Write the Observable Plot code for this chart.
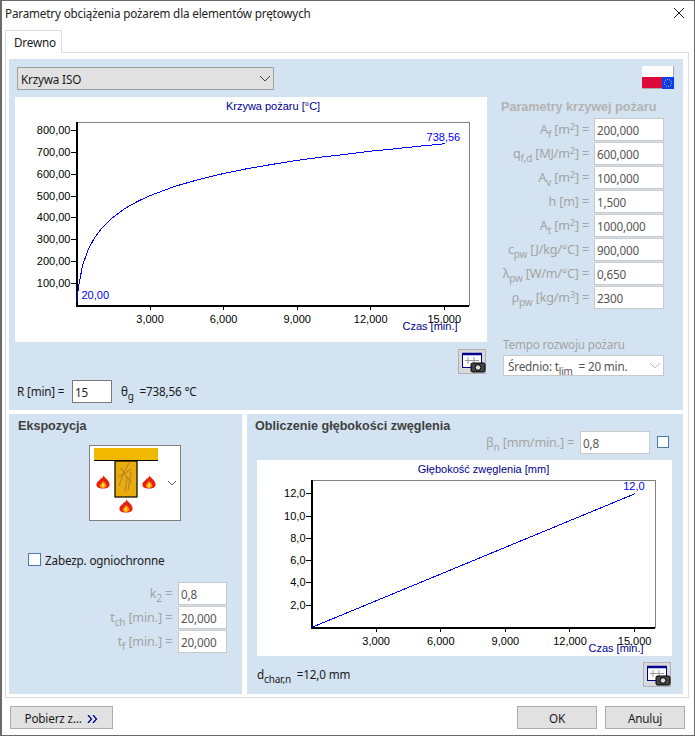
<!DOCTYPE html>
<html lang="pl">
<head>
<meta charset="utf-8">
<script src="https://cdn.jsdelivr.net/npm/d3@7"></script>
<script src="https://cdn.jsdelivr.net/npm/@observablehq/plot@0.6"></script>
<style>
html,body{margin:0;padding:0;background:#fff}
#win{position:relative;width:695px;height:736px;overflow:hidden;background:#fff;font-family:"Noto Sans",sans-serif;font-size:11.7px;letter-spacing:-.17px;color:#1a1a1a}
.a{position:absolute;box-sizing:border-box;white-space:nowrap}
.in{background:#fff;border:1px solid #c8c8c8;padding-left:2px;color:#555;display:flex;align-items:center}
.lab{color:#a3a3a3;text-align:right;font-size:12.6px;display:flex;align-items:center;justify-content:flex-end}
sub{font-size:10px;vertical-align:-4px;line-height:0}
sup{font-size:9px;vertical-align:4px;line-height:0}
.panel{background:#d3e3f1}
.btn{background:#e1e1e1;border:1px solid #adadad;display:flex;align-items:center;justify-content:center}
.h{font-family:"Liberation Sans",sans-serif;font-weight:bold;font-size:12.6px;letter-spacing:0}
.d{display:flex;align-items:center}
.cb{background:#fff;border:1px solid #4f7aa8}
.c{letter-spacing:0}
.c svg{display:block;background:#fff;overflow:visible}
.c svg line,.c svg rect,.c svg path{shape-rendering:crispEdges}
</style>
</head>
<body>
<div id="win"></div>
<script>
// ---- data ----
const fireMinutes = [0, 0.1, 0.25, 0.5, 0.75, 1, 1.5, 2, 2.5, 3, 4, 5, 6, 7, 8, 9, 10, 11, 12, 13, 14, 15];
const fireTemps = [20, 97, 185, 261, 312, 349, 404, 445, 476, 502, 544, 576, 603, 626, 645, 663, 678, 691, 705, 716, 728, 738.56];
const charMinutes = [0, 3, 6, 9, 12, 15];
const charDepths = [0, 2.4, 4.8, 7.2, 9.6, 12];
const fireXTicks = [3, 6, 9, 12, 15];
const fireYTicks = [100, 200, 300, 400, 500, 600, 700, 800];
const charXTicks = [3, 6, 9, 12, 15];
const charYTicks = [2, 4, 6, 8, 10, 12];
const fireLabels = ["20,00", "738,56"];
const charLabels = ["12,0"];

const rows = (xs, ys) => xs.map((x, i) => ({x, y: ys[i]}));
const comma = spec => d => d3.format(spec)(d).replace(".", ",");
const win = document.getElementById("win");
function el(x, y, w, h, cls, html, style) {
  const e = document.createElement("div");
  e.className = "a " + (cls || "");
  e.style.cssText = `left:${x}px;top:${y}px;` + (w != null ? `width:${w}px;` : "") + (h != null ? `height:${h}px;` : "") + (style || "");
  if (html != null) e.innerHTML = `<span>${html}</span>`;
  win.appendChild(e);
  return e;
}

// ---- window chrome ----
el(0, 0, 695, 736, "", null, "border:1px solid #6a6a6a;border-left-width:2px;");
el(5, 4, 320, 18, "d", "Parametry obciążenia pożarem dla elementów prętowych", "color:#222;");
el(672, 5, 14, 16, "", `<svg width="14" height="16"><path d="M2 3L12 13M12 3L2 13" stroke="#222" fill="none"/></svg>`);
el(5, 52, 684, 646, "", null, "border:1px solid #dcdcdc;");
el(5, 30, 57, 23, "d", "Drewno", "background:#fff;border:1px solid #dcdcdc;border-bottom:none;padding-left:8px;");
el(9, 59, 674, 351, "panel");
el(9, 414, 233, 280, "panel");
el(247, 414, 436, 280, "panel");

// top panel controls
const chevron = c => `<svg width="12" height="8" style="display:block"><path d="M1 1L6 6L11 1" stroke="${c}" fill="none"/></svg>`;
el(17, 67, 257, 23, "btn", "Krzywa ISO", "justify-content:flex-start;padding-left:3px;background:#e1e1e1;border-color:#a0a0a0;");
el(259, 75, 12, 8, "", chevron("#444"));
el(642, 66, 32, 24, "", `<svg width="33" height="24" style="display:block"><rect width="32" height="11" fill="#fff"/><rect y="11" width="20" height="11" fill="#dc0a3c"/><rect x="20" y="11" width="12" height="12" fill="#0a3cf0"/><circle cx="26" cy="17" r="3.6" fill="none" stroke="#ffe030" stroke-dasharray="1 1.2"/><path d="M0 22.5H20M31.5 0V11" stroke="#aaa"/></svg>`);

el(501, 99, 170, 16, "h d", "Parametry krzywej pożaru", "color:#b3b3b3;");
const paramLabels = ["A<sub>f</sub>&nbsp;[m<sup>2</sup>] =", "q<sub>f,d</sub>&nbsp;[MJ/m<sup>2</sup>] =", "A<sub>v</sub>&nbsp;[m<sup>2</sup>] =", "h [m] =", "A<sub>t</sub>&nbsp;[m<sup>2</sup>] =", "c<sub>pw</sub>&nbsp;[J/kg/°C] =", "λ<sub>pw</sub>&nbsp;[W/m/°C] =", "ρ<sub>pw</sub>&nbsp;[kg/m<sup>3</sup>] ="];
const paramValues = ["200,000", "600,000", "100,000", "1,500", "1000,000", "900,000", "0,650", "2300"];
paramLabels.forEach((t, i) => {
  el(480, 118 + 24 * i, 109, 23, "lab", t);
  el(594, 118 + 24 * i, 70, 23, "in", paramValues[i]);
});
el(503, 336, 170, 16, "d", "Tempo rozwoju pożaru", "color:#a3a3a3;");
el(503, 355, 161, 21, "in", "Średnio: t<sub>lim</sub>&nbsp;&nbsp;= 20 min.", "padding-left:4px;");
el(649, 362, 12, 8, "", chevron("#bbb"));

const camera = `<svg width="28" height="25" style="display:block"><rect x="3.5" y="3.5" width="19" height="14" fill="#fff" stroke="#00008c"/><path d="M3 4H23" stroke="#00008c" stroke-width="2.5"/><path d="M9 7V14M15 7V14M6 10.5H20" stroke="#999" fill="none"/><rect x="12" y="13" width="14" height="9" rx="1.5" fill="#444" stroke="#000"/><circle cx="19" cy="17.5" r="2.8" fill="#ddd" stroke="#000"/></svg>`;
el(458, 349, 28, 25, "", camera, "background:#d9d9d9;border:1px solid #b0b0b0;");
el(643, 662, 28, 25, "", camera, "background:#d9d9d9;border:1px solid #b0b0b0;");

el(17, 381, 56, 20, "d", "R [min] =");
el(72, 380, 40, 23, "in", "15", "border-color:#7a7a7a;color:#222;");
el(121, 381, 110, 20, "d", "θ<sub>g</sub>&nbsp;&nbsp;=738,56 °C");

// bottom left
el(18, 418, 120, 16, "h d", "Ekspozycja", "color:#404040;");
const flame = (x, y) => `<g transform="translate(${x},${y}) scale(1.1)"><path d="M0 -6C3 -3 6 -1 6 2.5C6 5 3 6 0 6C-3 6 -6 5 -6 2.5C-6 -0.5 -3 -1 -2 -3.5C-1 -3 0 -4 0 -6Z" fill="#e8210f"/><path d="M0 -1C2 1 3.5 2 3 4C2 5.5 -2 5.5 -3 4C-3 2 -1 1 0 -1Z" fill="#ff9a10"/><rect x="-1" y="1.5" width="2" height="3.5" fill="#ffe020"/></g>`;
el(89, 445, 92, 76, "", `<svg width="90" height="74" style="display:block">
<rect x="4" y="2" width="64" height="12" fill="#f0b800"/><rect x="4" y="14" width="64" height="1" fill="#000"/>
<rect x="25" y="15" width="22" height="36" fill="#e8ac0c" stroke="#000" stroke-width="1.2"/>
<path d="M39 17L33 28L29 40M31 22L37 32L35 46M28 31L42 23M36 30L42 37M41 26L38 44" stroke="#a8703a" fill="none" stroke-width=".8"/>
${flame(13, 36)}${flame(59, 36)}${flame(36, 60)}
<path d="M78 35L82 39L86 35" stroke="#555" fill="none"/></svg>`, "background:#fff;border:1px solid #808080;");
el(28, 553, 13, 13, "cb");
el(45, 551, 150, 18, "d", "Zabezp. ogniochronne");
["k<sub>2</sub>&nbsp;=", "t<sub>ch</sub>&nbsp;[min.] =", "t<sub>f</sub>&nbsp;[min.] ="].forEach((t, i) => {
  el(90, 582 + 24 * i, 82, 23, "lab", t);
  el(178, 582 + 24 * i, 49, 23, "in", ["0,8", "20,000", "20,000"][i]);
});

// bottom right
el(255, 418, 260, 16, "h d", "Obliczenie głębokości zwęglenia", "color:#404040;");
el(470, 431, 104, 23, "lab", "β<sub>n</sub>&nbsp;[mm/min.] =");
el(580, 431, 70, 23, "in", "0,8");
el(657, 436, 12, 12, "cb");
el(257, 664, 130, 20, "d", "d<sub>char,n</sub>&nbsp;&nbsp;=12,0 mm");

// footer
el(10, 706, 103, 23, "btn", `Pobierz z...&nbsp;&nbsp;<svg width="11" height="8"><path d="M1 0L4.5 4L1 8M6 0L9.5 4L6 8" stroke="#00008c" stroke-width="1.3" fill="none"/></svg>`);
el(517, 706, 80, 23, "btn", "OK");
el(605, 706, 80, 23, "btn", "Anuluj");

// ---- charts ----
function chart({left, top, width, height, margins, xDomain, yDomain, xTicks, yTicks, yFormat, data, labels, title, titleDy, xLabel}) {
  const plot = Plot.plot({
    width, height,
    marginLeft: margins[0], marginRight: margins[1], marginTop: margins[2], marginBottom: margins[3],
    style: {fontFamily: "'Liberation Sans',Arial,sans-serif", fontSize: "11px", color: "#000", background: "#fff", overflow: "visible"},
    x: {domain: xDomain},
    y: {domain: yDomain},
    marks: [
      Plot.frame({stroke: "#808080"}),
      Plot.axisY({ticks: yTicks, tickFormat: comma(yFormat), tickSize: 5, tickPadding: 1, label: null, stroke: "#000"}),
      Plot.axisX({ticks: xTicks, tickFormat: comma(".3f"), tickSize: 5, tickPadding: 5, label: null, stroke: "#000"}),
      Plot.ruleX([xDomain[0]], {stroke: "#000", strokeWidth: 2, y1: yDomain[0], y2: yDomain[1]}),
      Plot.ruleY([yDomain[0]], {stroke: "#000", strokeWidth: 2}),
      Plot.line(data, {x: "x", y: "y", stroke: "#0000ff", strokeWidth: 1}),
      ...labels.map(l => Plot.text([l], {x: "x", y: "y", text: "text", fill: "#0000ff", textAnchor: l.anchor, dx: l.dx, dy: l.dy})),
      Plot.text([title], {frameAnchor: "top", lineAnchor: "middle", dy: titleDy, fill: "#000090"}),
      Plot.text([xLabel], {frameAnchor: "bottom-right", lineAnchor: "middle", dx: -12, dy: 21, fill: "#000090"})
    ]
  });
  const holder = el(left, top, width, height, "c");
  holder.appendChild(plot);
}

chart({
  left: 15, top: 97, width: 472, height: 245, margins: [61, 18, 25, 37],
  xDomain: [0, 16.03], yDomain: [0, 836], xTicks: fireXTicks, yTicks: fireYTicks, yFormat: ".2f",
  data: rows(fireMinutes, fireTemps),
  labels: [
    {x: fireMinutes[0], y: fireTemps[0], text: fireLabels[0], anchor: "start", dx: 5, dy: -6},
    {x: fireMinutes[fireMinutes.length - 1], y: fireTemps[fireTemps.length - 1], text: fireLabels[1], anchor: "end", dx: 16, dy: -6}
  ],
  title: "Krzywa pożaru [°C]", titleDy: -16, xLabel: "Czas [min.]"
});
chart({
  left: 257, top: 460, width: 415, height: 196, margins: [54, 17, 20, 29],
  xDomain: [0, 15.97], yDomain: [0, 13.2], xTicks: charXTicks, yTicks: charYTicks, yFormat: ".1f",
  data: rows(charMinutes, charDepths),
  labels: [{x: charMinutes[charMinutes.length - 1], y: charDepths[charDepths.length - 1], text: charLabels[0], anchor: "end", dx: 10, dy: -7}],
  title: "Głębokość zwęglenia [mm]", titleDy: -11, xLabel: "Czas [min.]"
});
</script>
</body>
</html>
